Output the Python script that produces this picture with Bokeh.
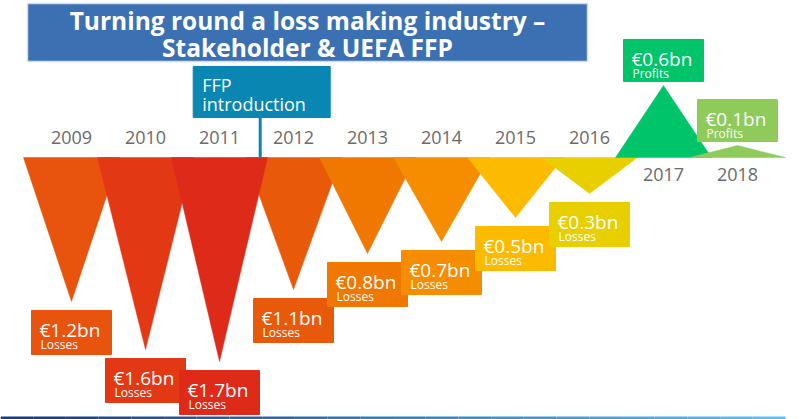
from bokeh.plotting import figure
from bokeh.models import Range1d
from bokeh.embed import file_html
from bokeh.resources import INLINE
from bokeh.core.properties import value

# ---------------- data ----------------
years = [2009, 2010, 2011, 2012, 2013, 2014, 2015, 2016, 2017, 2018]
results_bn = [-1.2, -1.6, -1.7, -1.1, -0.8, -0.7, -0.5, -0.3, 0.6, 0.1]
colors = ["#E8530E", "#E23814", "#DE2A18", "#E85A0A", "#F07700", "#F68D00",
          "#FDBB00", "#E8CF00", "#00C46A", "#8ECB5B"]
title_lines = ["Turning round a loss making industry \u2013", "Stakeholder & UEFA FFP"]
ffp_lines = ["FFP", "introduction"]
ffp_year = 2011.55

FONT = value("Open Sans")

# ---------------- layout (pixels of the picture) ----------------
X0, PX_YEAR = 71.0, 74.0      # picture x of 2009, pixels per year
BASE, PX_BN = 157.0, 120.0    # picture y of zero line, pixels per bn
W, H = 800, 419
BL = 0.24                     # baseline correction (fraction of font size)


def X(px):
    return 2009 + (px - X0) / PX_YEAR


def Y(py):
    return (BASE - py) / PX_BN


def dx(px):
    return px / PX_YEAR


def dy(py):
    return py / PX_BN


p = figure(width=W, height=H, x_range=Range1d(X(0), X(W)),
           y_range=Range1d(Y(H), Y(0)), output_backend="svg",
           toolbar_location=None, min_border=0, outline_line_color=None,
           background_fill_color="white", border_fill_color="white")
p.axis.visible = False
p.grid.visible = False


def label(x, y, txt, fs, color="white", align="left", bold=False):
    p.text(x=[x], y=[y + dy(BL * fs)], text=[txt], text_font=FONT,
           text_font_size=f"{fs}px", text_color=color,
           text_font_style="bold" if bold else "normal",
           text_baseline="alphabetic", text_align=align)


# ---------------- triangles ----------------
half = dx(48)
order = list(range(len(years)))
big = min(order, key=lambda i: results_bn[i])
order.remove(big)
order.insert(order.index(big + 1) + 1 if big + 1 < len(years) else len(order), big)
for i in order:
    yr, v = years[i], results_bn[i]
    p.patch([yr - half, yr + half, yr], [0, 0, v], fill_color=colors[i],
            line_color=colors[i], line_width=0.5)

# ---------------- value boxes ----------------
bw, bh = dx(40), dy(44)
for i, (yr, v) in enumerate(zip(years, results_bn)):
    if v < 0:
        top = v - dy(9)
        bottom = top - bh
        kind = "Losses"
    else:
        bottom = v + dy(4)
        top = bottom + dy(42)
        kind = "Profits"
    left = yr - bw
    p.quad(left=left, right=yr + bw, top=top, bottom=bottom,
           fill_color=colors[i], line_color=colors[i])
    label(left + dx(8), top - dy(24), f"\u20ac{abs(v):.1f}bn", 19)
    label(left + dx(9), top - dy(37), kind, 12)
    ly = Y(141) if v < 0 else Y(178)
    label(yr, ly, str(yr), 18, color="#6B6B6B", align="center")

# ---------------- FFP marker ----------------
fx = ffp_year
p.segment(x0=[fx], y0=[Y(117)], x1=[fx], y1=[0], line_color="#0A86B3",
          line_width=3)
p.quad(left=fx - dx(67), right=fx + dx(70), top=Y(66), bottom=Y(117),
       fill_color="#0A86B3", line_color="#0A86B3")
for j, t in enumerate(ffp_lines):
    label(fx - dx(58), Y(89 + 19 * j), t, 18)

# ---------------- title ----------------
p.quad(left=X(27), right=X(587), top=Y(3), bottom=Y(61),
       fill_color="#3B70B2", line_color="#D5DCE6", line_width=1.5)
for j, t in enumerate(title_lines):
    label(X(307), Y(26 + 27 * j), t, 24.5, align="center", bold=True)

# ---------------- bottom gradient rule ----------------
n = 24
c0, c1 = (0x1A, 0x3A, 0x78), (0x5A, 0xC2, 0xEA)
for k in range(n):
    t = k / (n - 1)
    col = "#%02X%02X%02X" % tuple(int(a + (b - a) * t) for a, b in zip(c0, c1))
    p.quad(left=X(k * 785 / n), right=X((k + 1) * 785 / n),
           top=Y(416), bottom=Y(419), fill_color=col, line_color=None)

open("out.html", "w").write(file_html(p, INLINE))
